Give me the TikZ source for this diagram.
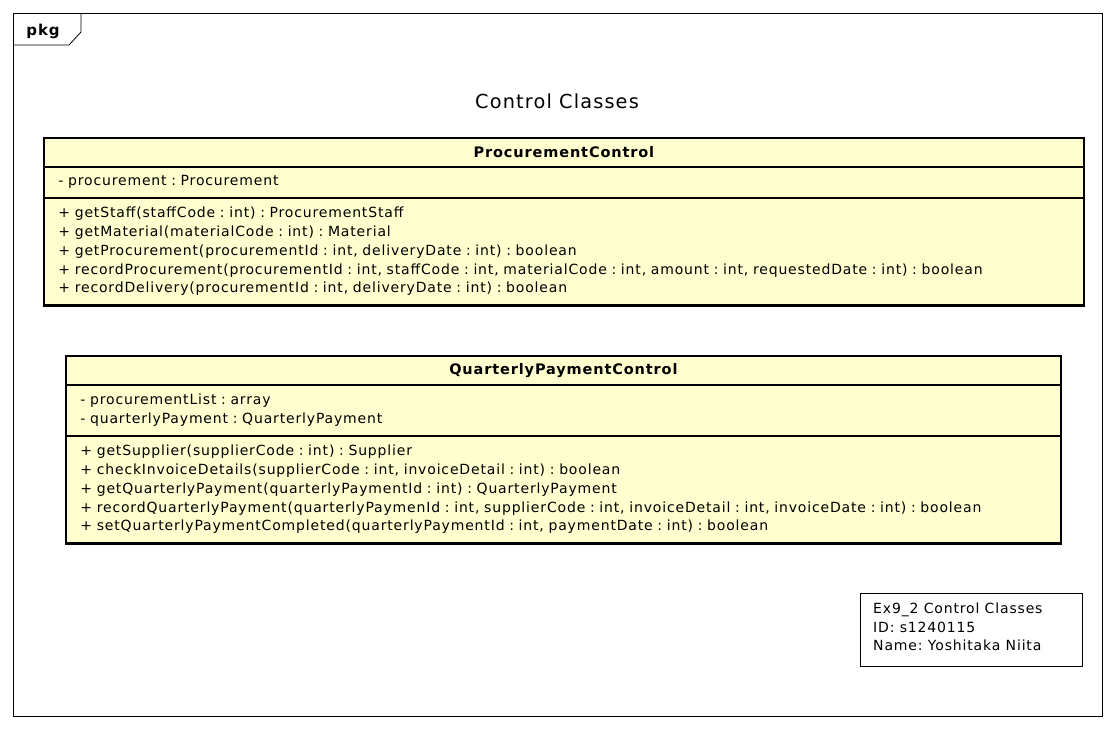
\documentclass[tikz,border=0pt]{standalone}
\usepackage{fontspec}
\setmainfont{DejaVu Sans}[LetterSpace=6]
\usetikzlibrary{positioning}
\definecolor{classfill}{HTML}{FEFECE}
\frenchspacing

\begin{document}
\begin{tikzpicture}[x=1pt, y=-1pt,
  classname/.style={fill=classfill, draw=black, line width=0.8pt, anchor=north west,
    inner xsep=14pt, inner ysep=0pt, align=center, font=\fontsize{14.5}{18.7}\selectfont\bfseries},
  classpart/.style={fill=classfill, draw=black, line width=0.8pt, anchor=north,
    inner xsep=14pt, inner ysep=0pt, align=left, font=\fontsize{14}{18.7}\selectfont},
  classborder/.style={draw=black, line width=2.4pt},
  notebox/.style={draw=black, line width=0.8pt, fill=white, anchor=north west,
    minimum width=222pt, minimum height=73pt},
  notetext/.style={anchor=north west, inner sep=0pt, align=left,
    font=\fontsize{14}{18.7}\selectfont}]
\useasboundingbox (0,0) rectangle (1116,729);
% package frame
\draw[line width=0.8pt] (13,13) rectangle (1102,716);
\draw[line width=0.8pt] (13,45) -- (69,45) -- (81,32) -- (81,13);
\node[font=\fontsize{15}{16}\selectfont\bfseries] (pkgname) at (43,31) {pkg};
\node[font=\fontsize{19.3}{22}\selectfont] (title) at (557,101) {Control Classes};

% ProcurementControl
\node[classname, text width=1011pt, minimum height=28pt] (pcName) at (44,138) {ProcurementControl};
\node[classpart, text width=1011pt, minimum height=30pt, below=0pt of pcName] (pcAttr)
  {- procurement : Procurement};
\node[classpart, text width=1011pt, minimum height=107pt, below=0pt of pcAttr] (pcOps)
  {+ getStaff(staffCode : int) : ProcurementStaff\\
   + getMaterial(materialCode : int) : Material\\
   + getProcurement(procurementId : int, deliveryDate : int) : boolean\\
   + recordProcurement(procurementId : int, staffCode : int, materialCode : int, amount : int, requestedDate : int) : boolean\\
   + recordDelivery(procurementId : int, deliveryDate : int) : boolean};
\draw[classborder] (pcName.north west) rectangle (pcOps.south east);

% QuarterlyPaymentControl
\node[classname, text width=966pt, minimum height=28pt] (qpName) at (66,356) {QuarterlyPaymentControl};
\node[classpart, text width=966pt, minimum height=50pt, below=0pt of qpName] (qpAttr)
  {- procurementList : array\\
   - quarterlyPayment : QuarterlyPayment};
\node[classpart, text width=966pt, minimum height=107pt, below=0pt of qpAttr] (qpOps)
  {+ getSupplier(supplierCode : int) : Supplier\\
   + checkInvoiceDetails(supplierCode : int, invoiceDetail : int) : boolean\\
   + getQuarterlyPayment(quarterlyPaymentId : int) : QuarterlyPayment\\
   + recordQuarterlyPayment(quarterlyPaymenId : int, supplierCode : int, invoiceDetail : int, invoiceDate : int) : boolean\\
   + setQuarterlyPaymentCompleted(quarterlyPaymentId : int, paymentDate : int) : boolean};
\draw[classborder] (qpName.north west) rectangle (qpOps.south east);

% legend
\node[notebox] (legend) at (860,593) {};
\node[notetext] (legendText) at ([xshift=13pt, yshift=-9.5pt]legend.north west)
  {Ex9\_2 Control Classes\\ID: s1240115\\Name: Yoshitaka Niita};
\end{tikzpicture}
\end{document}
